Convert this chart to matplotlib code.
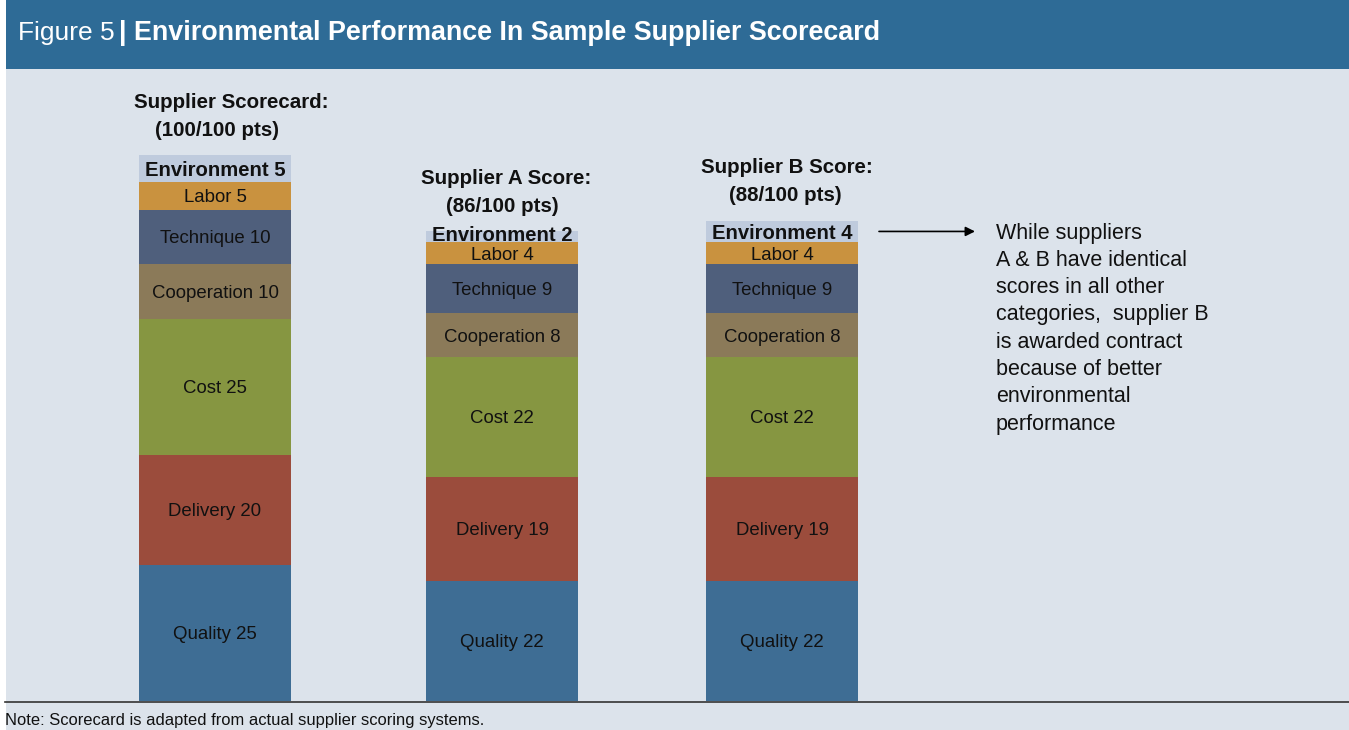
import matplotlib
matplotlib.use("Agg")
import matplotlib.pyplot as plt
from matplotlib.patches import Rectangle

# ---------------- data ----------------
categories = ["Quality", "Delivery", "Cost", "Cooperation", "Technique", "Labor", "Environment"]
scorecard = [25, 20, 25, 10, 10, 5, 5]
supplier_a = [22, 19, 22, 8, 9, 4, 2]
supplier_b = [22, 19, 22, 8, 9, 4, 4]
series = [scorecard, supplier_a, supplier_b]
titles = [["Supplier Scorecard:", "(100/100 pts)"],
          ["Supplier A Score:", "(86/100 pts)"],
          ["Supplier B Score:", "(88/100 pts)"]]
note_lines = ["While suppliers", "A & B have identical", "scores in all other",
              "categories,  supplier B", "is awarded contract",
              "because of better", "environmental", "performance"]

colors = ["#3e6d94", "#9b4c3c", "#869641", "#8b7a59", "#4f5f7c", "#c9923f", "#bfcbdd"]
BG = "#dce3eb"
HEAD = "#2e6b96"

ARIAL = ["Liberation Sans", "DejaVu Sans"]

W, H = 1349, 730
PX = 5.46          # pixels per point of score
BASE = 701         # pixel row of the bars' base

fig = plt.figure(figsize=(W / 100, H / 100), dpi=100)
fig.patch.set_facecolor("white")
ax = fig.add_axes([0, 0, 1, 1])
ax.set_zorder(2)
ax.patch.set_visible(False)
ax.set_xlim(0, W)
ax.set_ylim(-(H - BASE) / PX, BASE / PX)
ax.axis("off")

# background + header band
fig.patches.append(Rectangle((6 / W, 0), 1, 1, transform=fig.transFigure,
                             facecolor=BG, edgecolor="none", zorder=0))
fig.patches.append(Rectangle((6 / W, 1 - 69 / H), 1, 69 / H, transform=fig.transFigure,
                             facecolor=HEAD, edgecolor="none", zorder=0))
fig.text(18 / W, 1 - 33 / H, "Figure 5", color="white", fontsize=19,
         family=ARIAL, va="center", ha="left", zorder=3)
fig.text(119 / W, 1 - 33 / H, "| Environmental Performance In Sample Supplier Scorecard",
         color="white", fontsize=19.4, fontweight="bold", family=ARIAL,
         va="center", ha="left", zorder=3)

centers = [215, 502, 782]
bar_w = 152
title_dx = [[16, 2], [4, 0], [5, 3]]

for ci, vals in enumerate(series):
    bottom = 0
    for k, v in enumerate(vals):
        ax.bar(centers[ci], v, width=bar_w, bottom=bottom, color=colors[k],
               edgecolor="none", zorder=2)
        bold = categories[k] == "Environment"
        if bold:
            ty = bottom + max(v / 2, 1.5) - 0.3
        else:
            ty = bottom + v / 2 - 0.35
        ax.text(centers[ci], ty, f"{categories[k]} {v}",
                ha="center", va="center", fontsize=14.6 if bold else 13.4,
                fontweight="bold" if bold else "normal", family=ARIAL,
                color="#111111", zorder=3)
        bottom += v
    # column titles
    ax.text(centers[ci] + title_dx[ci][0], bottom + 53 / PX, titles[ci][0],
            ha="center", va="center", fontsize=14.8, fontweight="bold",
            family=ARIAL, color="#111111")
    ax.text(centers[ci] + title_dx[ci][1], bottom + 25 / PX, titles[ci][1],
            ha="center", va="center", fontsize=14.8, fontweight="bold",
            family=ARIAL, color="#111111")

# arrow and side comment
arrow_y = sum(supplier_b) - 2.0
ax.annotate("", xy=(975, arrow_y), xytext=(879, arrow_y),
            arrowprops=dict(arrowstyle="-|>", color="black", lw=1.2,
                            mutation_scale=14, shrinkA=0, shrinkB=0))
for i, line in enumerate(note_lines):
    ax.text(996, (BASE - 233 - i * 27.3) / PX, line, ha="left", va="center",
            fontsize=15.5, family=ARIAL, color="#111111")

# base line and note
ax.plot([5, W], [-0.15, -0.15], color="#333333", lw=1.2, zorder=4)
ax.text(5, -(721 - BASE) / PX, "Note: Scorecard is adapted from actual supplier scoring systems.",
        ha="left", va="center", fontsize=11.9, family=ARIAL, color="#111111")

fig.savefig("out.png", dpi=100, facecolor=fig.get_facecolor())
